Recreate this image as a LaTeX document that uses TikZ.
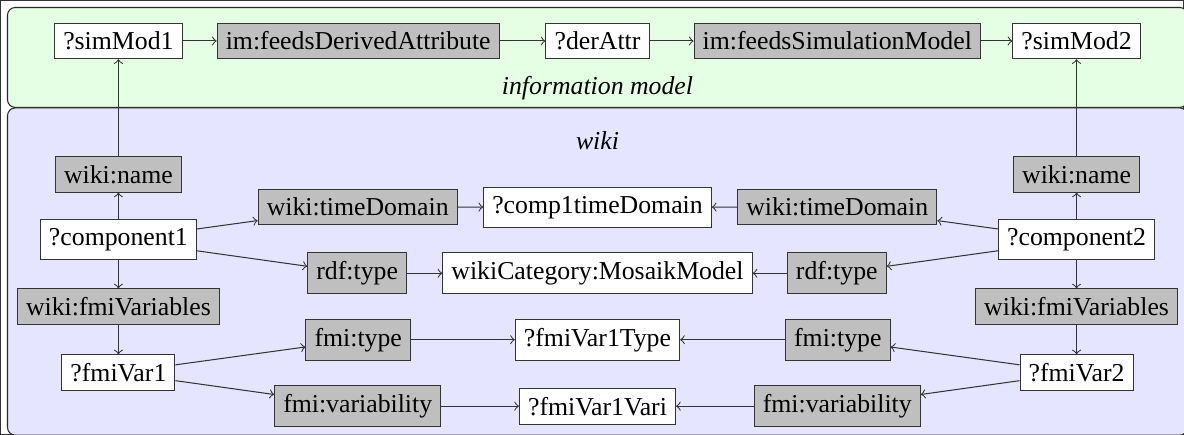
\documentclass[tikz,border=0pt]{standalone}
\usepackage{fontspec}
\setmainfont{Liberation Serif}
\begin{document}
\begin{tikzpicture}[x=0.3876pt,y=-0.3876pt,
  every path/.style={draw=black!80},
  var/.style={draw=black!80, fill=white},
  pred/.style={draw=black!80, fill=black!25},
  link/.style={->, draw=black!80},
  region/.style={draw=black!85, rounded corners=3pt},
  caption/.style={font=\itshape}]
\useasboundingbox (0,0) rectangle (1184,434);

% layers
\draw[region, fill=green!10] (7,7) rectangle (1188,107);
\draw[region, fill=blue!10] (7,107.5) rectangle (1188,435);
\node[caption] (imlab) at (597.5,88) {information model};
\node[caption] (wikilab) at (597.5,140) {wiki};

% information model chain
\node[var]  (sm1) at (118,40.5)   {?simMod1};
\node[pred] (fda) at (358,40.5)   {im:feedsDerivedAttribute};
\node[var]  (da)  at (597.5,40.5) {?derAttr};
\node[pred] (fsm) at (837.5,40.5) {im:feedsSimulationModel};
\node[var]  (sm2) at (1077,40.5)  {?simMod2};

% first component
\node[pred] (wn1) at (118,174)   {wiki:name};
\node[var]  (c1)  at (118,239.5) {?component1};
\node[pred] (fv1) at (118,306.5) {wiki:fmiVariables};
\node[var]  (v1)  at (118,372.5) {?fmiVar1};
\node[pred] (td1) at (357.5,206.5) {wiki:timeDomain};
\node[pred] (rt1) at (357,273)     {rdf:type};
\node[pred] (ft1) at (358,339.5)   {fmi:type};
\node[pred] (fa1) at (357.5,406)   {fmi:variability};

% shared objects
\node[var] (ctd) at (597.5,207)   {?comp1timeDomain};
\node[var] (wcm) at (597.5,273)   {wikiCategory:MosaikModel};
\node[var] (fvt) at (597.5,339.5) {?fmiVar1Type};
\node[var] (fvv) at (597.5,406)   {?fmiVar1Vari};

% second component
\node[pred] (wn2) at (1077,174)   {wiki:name};
\node[var]  (c2)  at (1077,239.5) {?component2};
\node[pred] (fv2) at (1077,306.5) {wiki:fmiVariables};
\node[var]  (v2)  at (1077,372.5) {?fmiVar2};
\node[pred] (td2) at (837.5,206.5) {wiki:timeDomain};
\node[pred] (rt2) at (837,273)     {rdf:type};
\node[pred] (ft2) at (838,339.5)   {fmi:type};
\node[pred] (fa2) at (837.5,406)   {fmi:variability};

% edges
\draw[link] (sm1) -- (fda);
\draw[link] (fda) -- (da);
\draw[link] (da) -- (fsm);
\draw[link] (fsm) -- (sm2);

\draw[link] (wn1) -- (sm1);
\draw[link] (c1) -- (wn1);
\draw[link] (c1) -- (fv1);
\draw[link] (fv1) -- (v1);
\draw[link] (c1) -- (td1);
\draw[link] (td1) -- (ctd);
\draw[link] (c1) -- (rt1);
\draw[link] (rt1) -- (wcm);
\draw[link] (v1) -- (ft1);
\draw[link] (ft1) -- (fvt);
\draw[link] (v1) -- (fa1);
\draw[link] (fa1) -- (fvv);

\draw[link] (wn2) -- (sm2);
\draw[link] (c2) -- (wn2);
\draw[link] (c2) -- (fv2);
\draw[link] (fv2) -- (v2);
\draw[link] (c2) -- (td2);
\draw[link] (td2) -- (ctd);
\draw[link] (c2) -- (rt2);
\draw[link] (rt2) -- (wcm);
\draw[link] (v2) -- (ft2);
\draw[link] (ft2) -- (fvt);
\draw[link] (v2) -- (fa2);
\draw[link] (fa2) -- (fvv);
\end{tikzpicture}
\end{document}
